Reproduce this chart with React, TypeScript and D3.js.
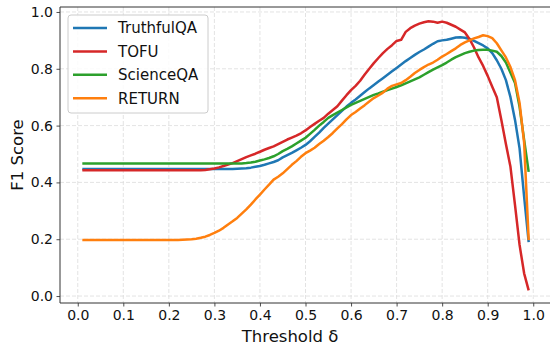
import React, { useEffect, useRef } from 'react';
import * as d3 from 'd3';

// thresholds 0.01 .. 0.99
const thresholds: number[] = d3.range(1, 100).map((i) => i / 100);

const truthfulQA: number[] = [
  0.447, 0.447, 0.447, 0.447, 0.447, 0.447, 0.447, 0.447, 0.447, 0.447,
  0.447, 0.447, 0.447, 0.447, 0.447, 0.447, 0.447, 0.447, 0.447, 0.447,
  0.447, 0.447, 0.447, 0.447, 0.447, 0.447, 0.447, 0.447, 0.447, 0.447,
  0.447, 0.447, 0.447, 0.447,
  0.448, 0.449, 0.450, 0.452, 0.455, 0.458,
  0.462, 0.467, 0.472, 0.478, 0.488, 0.496, 0.504, 0.513, 0.522, 0.532,
  0.545, 0.560, 0.575, 0.592, 0.607, 0.622, 0.637, 0.652, 0.667, 0.680,
  0.692, 0.705, 0.718, 0.731, 0.743, 0.755, 0.767, 0.779, 0.791, 0.803,
  0.815, 0.827, 0.838, 0.849, 0.859, 0.868, 0.878, 0.888, 0.897, 0.900,
  0.902, 0.906, 0.910, 0.911, 0.909, 0.905, 0.898, 0.890, 0.882, 0.872,
  0.855, 0.830, 0.800, 0.760, 0.700, 0.620, 0.520, 0.350, 0.190,
];

const tofu: number[] = [
  0.443, 0.443, 0.443, 0.443, 0.443, 0.443, 0.443, 0.443, 0.443, 0.443,
  0.443, 0.443, 0.443, 0.443, 0.443, 0.443, 0.443, 0.443, 0.443, 0.443,
  0.443, 0.443, 0.443, 0.443, 0.443, 0.443, 0.443,
  0.444, 0.446, 0.449,
  0.453, 0.458, 0.463, 0.468, 0.475, 0.482, 0.489, 0.495, 0.501, 0.508,
  0.515, 0.521, 0.527, 0.535, 0.543, 0.551, 0.558, 0.565, 0.573, 0.583,
  0.595, 0.606, 0.617, 0.627, 0.642, 0.655, 0.668, 0.688, 0.707, 0.725,
  0.740, 0.758, 0.780, 0.800, 0.820, 0.838, 0.855, 0.870, 0.883, 0.898,
  0.902, 0.930, 0.943, 0.952, 0.959, 0.964, 0.967, 0.966, 0.962, 0.966,
  0.962, 0.955, 0.948, 0.938, 0.928, 0.905, 0.875, 0.840, 0.810, 0.775,
  0.737, 0.700, 0.620, 0.535, 0.455, 0.320, 0.180, 0.080, 0.020,
];

const scienceQA: number[] = [
  0.467, 0.467, 0.467, 0.467, 0.467, 0.467, 0.467, 0.467, 0.467, 0.467,
  0.467, 0.467, 0.467, 0.467, 0.467, 0.467, 0.467, 0.467, 0.467, 0.467,
  0.467, 0.467, 0.467, 0.467, 0.467, 0.467, 0.467, 0.467, 0.467, 0.467,
  0.467, 0.467, 0.467, 0.467, 0.467, 0.467,
  0.468, 0.470, 0.473, 0.477,
  0.481, 0.486, 0.492, 0.500, 0.510, 0.518, 0.527, 0.537, 0.547, 0.557,
  0.571, 0.585, 0.600, 0.613, 0.627, 0.637, 0.646, 0.655, 0.664, 0.673,
  0.680, 0.687, 0.694, 0.701, 0.708, 0.713, 0.719, 0.725, 0.730, 0.736,
  0.742, 0.749, 0.756, 0.763, 0.770, 0.779, 0.788, 0.797, 0.805, 0.813,
  0.822, 0.832, 0.841, 0.848, 0.855, 0.860, 0.864, 0.866, 0.867, 0.867,
  0.864, 0.860, 0.845, 0.822, 0.786, 0.750, 0.666, 0.550, 0.437,
];

const returnScores: number[] = [
  0.197, 0.197, 0.197, 0.197, 0.197, 0.197, 0.197, 0.197, 0.197, 0.197,
  0.197, 0.197, 0.197, 0.197, 0.197, 0.197, 0.197, 0.197, 0.197, 0.197,
  0.197, 0.197,
  0.198, 0.199, 0.200, 0.202, 0.205, 0.209, 0.215, 0.222,
  0.230, 0.240, 0.252, 0.263, 0.275, 0.290, 0.305, 0.322, 0.340, 0.357,
  0.375, 0.392, 0.410, 0.420, 0.432, 0.447, 0.462, 0.475, 0.490, 0.503,
  0.512, 0.522, 0.535, 0.547, 0.560, 0.574, 0.590, 0.605, 0.622, 0.637,
  0.648, 0.660, 0.672, 0.685, 0.697, 0.706, 0.716, 0.730, 0.740, 0.745,
  0.750, 0.760, 0.772, 0.785, 0.796, 0.806, 0.815, 0.822, 0.832, 0.843,
  0.852, 0.862, 0.872, 0.884, 0.893, 0.900, 0.907, 0.912, 0.918, 0.915,
  0.908, 0.890, 0.865, 0.840, 0.806, 0.760, 0.680, 0.540, 0.197,
];

const seriesNames: string[] = ['TruthfulQA', 'TOFU', 'ScienceQA', 'RETURN'];
const seriesValues: number[][] = [truthfulQA, tofu, scienceQA, returnScores];
const seriesColors: string[] = ['#1f77b4', '#d62728', '#2ca02c', '#ff7f0e'];
const tickValues: number[] = [0, 0.1, 0.2, 0.3, 0.4, 0.5, 0.6, 0.7, 0.8, 0.9, 1.0];
const yTickValues: number[] = [0, 0.2, 0.4, 0.6, 0.8, 1.0];

const W = 550;
const H = 347;
const FONT = '"DejaVu Sans", sans-serif';

export default function App() {
  const ref = useRef<SVGSVGElement | null>(null);

  useEffect(() => {
    const svg = d3.select(ref.current);
    svg.selectAll('*').remove();

    const left = 60, right = 551, top = 7, bottom = 303;
    const x = d3.scaleLinear().domain([-0.039, 1.039]).range([left, right]);
    const y = d3.scaleLinear().domain([-0.0245, 1.0175]).range([bottom, top]);

    // grid
    const grid = svg.append('g');
    grid.selectAll('line.gx')
      .data(tickValues)
      .enter()
      .append('line')
        .attr('x1', (d) => x(d))
        .attr('x2', (d) => x(d))
        .attr('y1', top)
        .attr('y2', bottom)
        .attr('stroke', '#dcdcdc')
        .attr('stroke-width', 0.8)
        .attr('stroke-dasharray', '4,2');
    grid.selectAll('line.gy')
      .data(yTickValues)
      .enter()
      .append('line')
        .attr('x1', left)
        .attr('x2', right)
        .attr('y1', (d) => y(d))
        .attr('y2', (d) => y(d))
        .attr('stroke', '#dcdcdc')
        .attr('stroke-width', 0.8)
        .attr('stroke-dasharray', '4,2');

    // lines
    const line = d3.line<number>()
      .x((d, i) => x(thresholds[i]))
      .y((d) => y(d));

    seriesValues.forEach((vals, k) => {
      svg.append('path')
        .datum(vals)
        .attr('d', line)
        .attr('fill', 'none')
        .attr('stroke', seriesColors[k])
        .attr('stroke-width', 2.5)
        .attr('stroke-linejoin', 'round');
    });

    // axes
    const xaxis = d3.axisBottom(x).tickValues(tickValues).tickFormat(d3.format('.1f')).tickSize(3.5).tickPadding(3.5);
    const yaxis = d3.axisLeft(y).tickValues(yTickValues).tickFormat(d3.format('.1f')).tickSize(3.5).tickPadding(3.5);

    const gx = svg.append('g')
      .attr('transform', 'translate(0,' + bottom + ')')
      .call(xaxis);
    const gy = svg.append('g')
      .attr('transform', 'translate(' + left + ',0)')
      .call(yaxis);

    [gx, gy].forEach((g) => {
      g.select('.domain').remove();
      g.selectAll('line').attr('stroke', '#222').attr('stroke-width', 0.8);
      g.selectAll('text')
        .attr('fill', '#111')
        .style('font-family', FONT)
        .style('font-size', '14px');
    });

    // spines
    svg.append('line').attr('x1', left).attr('x2', left).attr('y1', top).attr('y2', bottom)
      .attr('stroke', '#333').attr('stroke-width', 1);
    svg.append('line').attr('x1', left).attr('x2', right).attr('y1', bottom).attr('y2', bottom)
      .attr('stroke', '#333').attr('stroke-width', 1);
    svg.append('line').attr('x1', left).attr('x2', right).attr('y1', top).attr('y2', top)
      .attr('stroke', '#333').attr('stroke-width', 1);

    // labels
    svg.append('text')
      .attr('x', 290)
      .attr('y', 342)
      .attr('text-anchor', 'middle')
      .style('font-family', FONT)
      .style('font-size', '16.5px')
      .attr('fill', '#111')
      .text('Threshold δ');
    svg.append('text')
      .attr('transform', 'translate(23,155) rotate(-90)')
      .attr('text-anchor', 'middle')
      .style('font-family', FONT)
      .style('font-size', '16.5px')
      .attr('fill', '#111')
      .text('F1 Score');

    // legend
    const lg = svg.append('g');
    lg.append('rect')
      .attr('x', 68).attr('y', 15).attr('width', 140).attr('height', 98).attr('rx', 3)
      .attr('fill', 'white').attr('fill-opacity', 0.85)
      .attr('stroke', '#cccccc').attr('stroke-width', 1);
    seriesNames.forEach((name, k) => {
      const yy = 28 + k * 23.4;
      lg.append('line')
        .attr('x1', 73).attr('x2', 107).attr('y1', yy).attr('y2', yy)
        .attr('stroke', seriesColors[k]).attr('stroke-width', 2.5);
      lg.append('text')
        .attr('x', 118).attr('y', yy).attr('dy', '0.36em')
        .style('font-family', FONT)
        .style('font-size', '15px')
        .attr('fill', '#111')
        .text(name);
    });
  }, []);

  return (
    <svg ref={ref} width={W} height={H}
      style={{ position: 'absolute', left: 0, top: 0, background: 'white' }} />
  );
}
